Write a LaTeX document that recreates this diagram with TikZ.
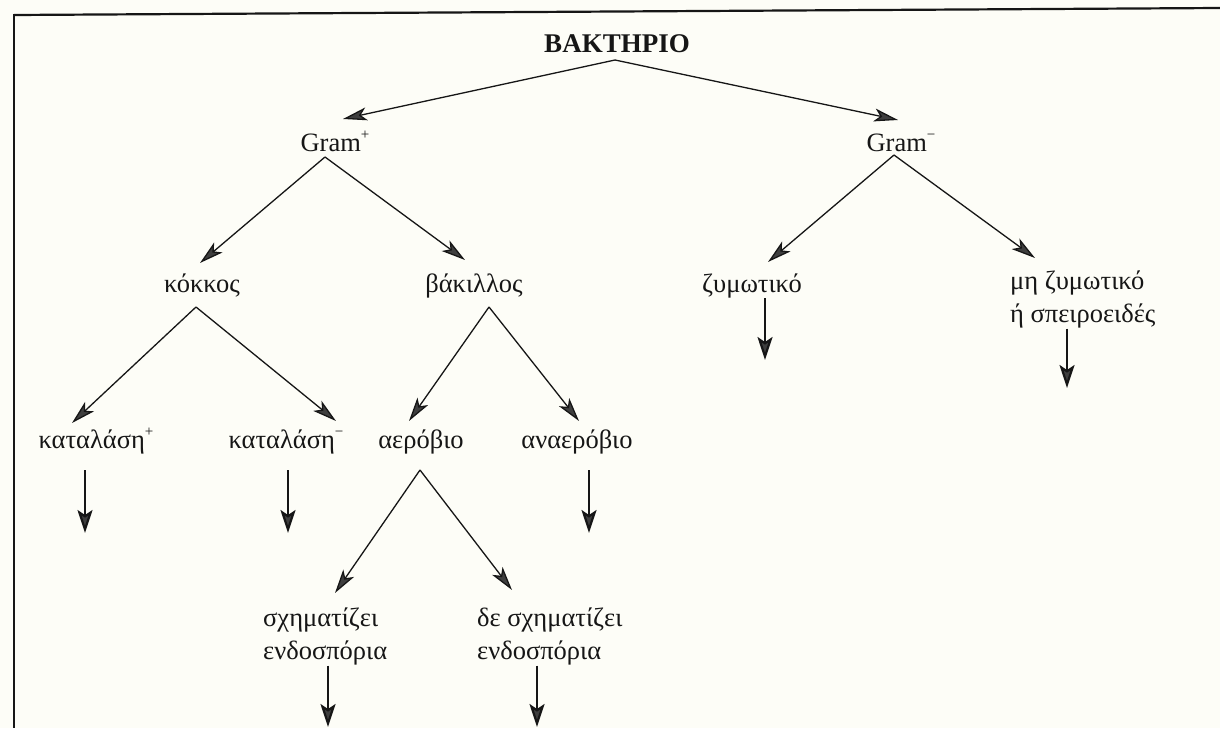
\documentclass[tikz,border=0pt]{standalone}
\usepackage{fontspec}
\setmainfont{Liberation Serif}
\usetikzlibrary{arrows.meta}
\definecolor{paper}{RGB}{253,253,247}
\definecolor{ink}{RGB}{22,22,22}
\definecolor{headfill}{RGB}{62,62,62}
% small raised sign after "Gram" and "καταλάση"
\newcommand\signmark[1]{\raisebox{0.42em}{\fontsize{15pt}{15pt}\selectfont #1}}

\begin{document}
\begin{tikzpicture}[x=1pt,y=-1pt,
  lbl/.style={font=\fontsize{26.5pt}{33pt}\selectfont, inner sep=0pt, anchor=base, text=ink},
  twoline/.style={lbl, align=left, anchor=north west},
  title/.style={font=\fontsize{27pt}{30pt}\selectfont\bfseries, inner sep=0pt, anchor=base, text=ink},
  branch/.style={draw=ink, line width=1.3pt,
    -{Stealth[length=24pt,width=13pt,inset=6pt,fill=headfill]}},
  drop/.style={draw=ink, line width=2.2pt,
    -{Stealth[length=23pt,width=15pt,inset=5pt,fill=headfill]}},
  frame/.style={draw=ink, line width=2.2pt},
]
\fill[paper] (0,0) rectangle (1220,728);
\useasboundingbox (0,0) rectangle (1220,728);

% open frame: top rule and left rule
\draw[frame] (14,15) -- (1220,8);
\draw[frame] (14,14) -- (14,728);

% labels
\node[title] (root) at (617,52) {ΒΑΚΤΗΡΙΟ};
\node[lbl] (gp) at (335,151) {Gram\signmark{+}};
\node[lbl] (gm) at (901,151) {Gram\signmark{−}};
\node[lbl] (kok) at (202,292) {κόκκος};
\node[lbl] (bak) at (474,292) {βάκιλλος};
\node[lbl] (zym) at (752,292) {ζυμωτικό};
\node[twoline] (mzym) at (1010,271) {μη ζυμωτικό\\ή σπειροειδές};
\node[lbl] (katp) at (96,448) {καταλάση\signmark{+}};
\node[lbl] (katm) at (286,448) {καταλάση\signmark{−}};
\node[lbl] (aer) at (421,448) {αερόβιο};
\node[lbl] (anaer) at (577,448) {αναερόβιο};
\node[twoline] (sx) at (263,608) {σχηματίζει\\ενδοσπόρια};
\node[twoline] (dsx) at (477,608) {δε σχηματίζει\\ενδοσπόρια};

% free ends of the downward arrows
\coordinate (katpEnd) at (85,533);
\coordinate (katmEnd) at (288,533);
\coordinate (anaerEnd) at (589,533);
\coordinate (zymEnd) at (765,360);
\coordinate (mzymEnd) at (1067,388);
\coordinate (sxEnd) at (328,727);
\coordinate (dsxEnd) at (537,727);

% branches
\draw[branch] ([shift={(-2,8)}]root.base) -- ([shift={(8,-32)}]gp.base);
\draw[branch] ([shift={(-2,8)}]root.base) -- ([shift={(-3,-31)}]gm.base);
\draw[branch] ([shift={(-10,6)}]gp.base) -- ([shift={(-2,-29)}]kok.base);
\draw[branch] ([shift={(-10,6)}]gp.base) -- ([shift={(-9,-32)}]bak.base);
\draw[branch] ([shift={(-7,4)}]gm.base) -- ([shift={(16,-30)}]zym.base);
\draw[branch] ([shift={(-7,4)}]gm.base) -- ([shift={(25,-13)}]mzym.north west);
\draw[branch] ([shift={(-6,15)}]kok.base) -- ([shift={(-24,-25)}]katp.base);
\draw[branch] ([shift={(-6,15)}]kok.base) -- ([shift={(50,-27)}]katm.base);
\draw[branch] ([shift={(15,15)}]bak.base) -- ([shift={(-12,-27)}]aer.base);
\draw[branch] ([shift={(15,15)}]bak.base) -- ([shift={(2,-27)}]anaer.base);
\draw[branch] ([shift={(-1,22)}]aer.base) -- ([shift={(72,-15)}]sx.north west);
\draw[branch] ([shift={(-1,22)}]aer.base) -- ([shift={(35,-18)}]dsx.north west);

% downward arrows
\draw[drop] ([shift={(-11,22)}]katp.base) -- (katpEnd);
\draw[drop] ([shift={(2,22)}]katm.base) -- (katmEnd);
\draw[drop] ([shift={(12,22)}]anaer.base) -- (anaerEnd);
\draw[drop] ([shift={(13,6)}]zym.base) -- (zymEnd);
\draw[drop] ([xshift=57pt]mzym.south west) -- (mzymEnd);
\draw[drop] ([xshift=65pt]sx.south west) -- (sxEnd);
\draw[drop] ([xshift=60pt]dsx.south west) -- (dsxEnd);
\end{tikzpicture}
\end{document}
